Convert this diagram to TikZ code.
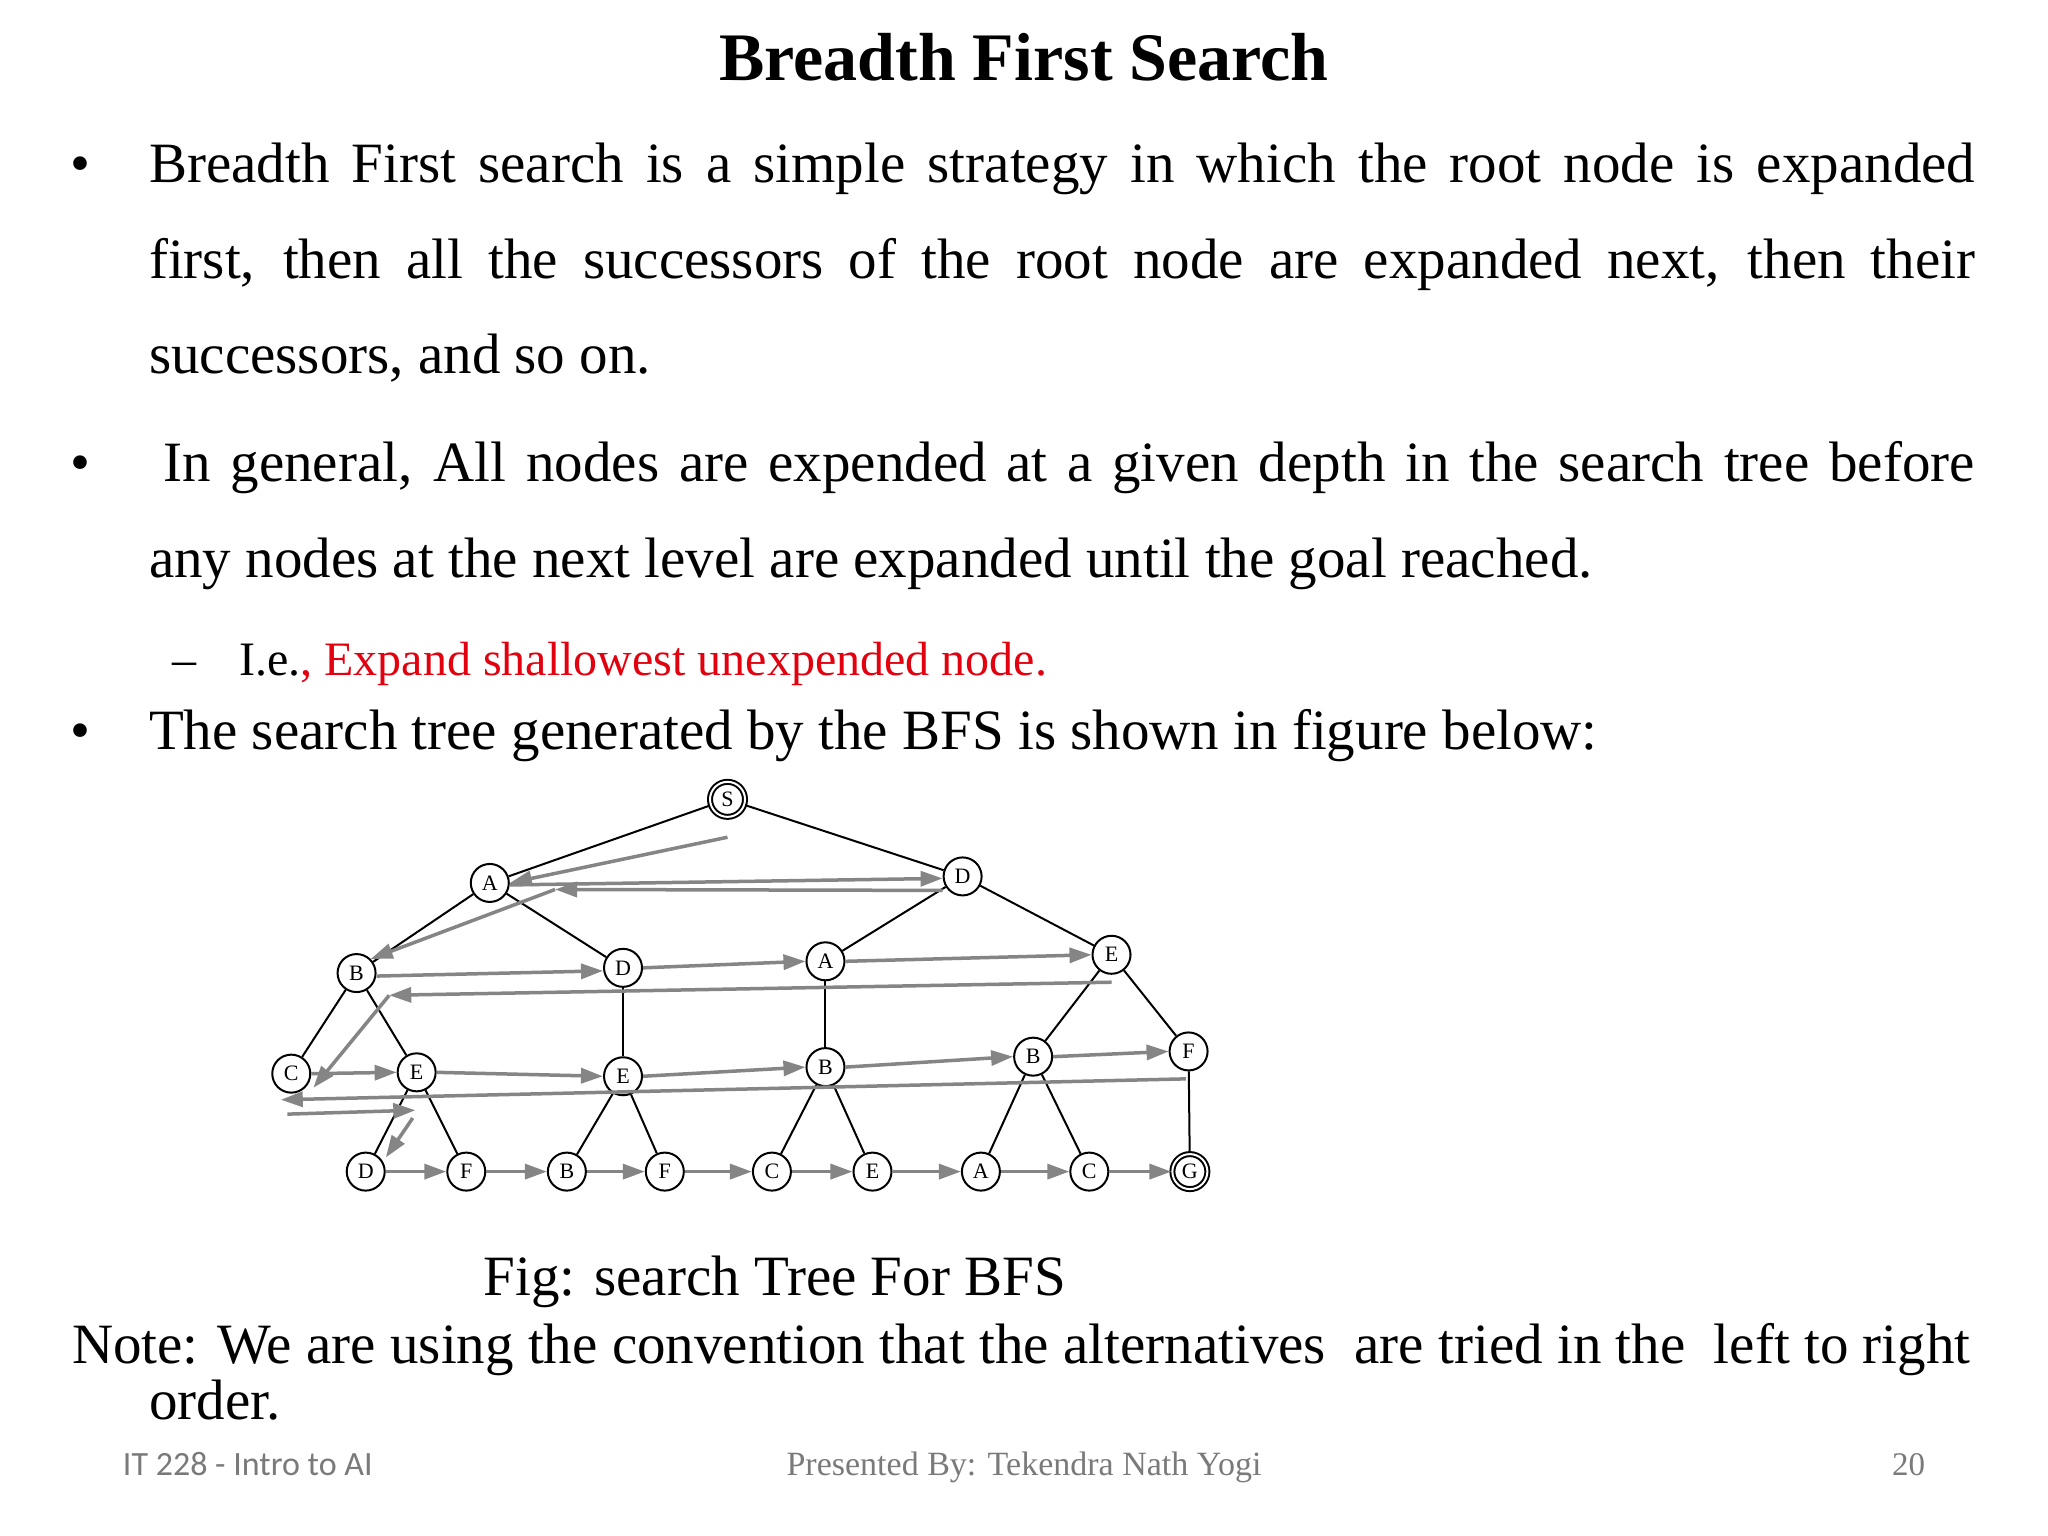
\documentclass[tikz,border=0pt]{standalone}
\usepackage{fontspec}
\setmainfont{Liberation Serif}
\newfontfamily\footsans{Carlito}
\usetikzlibrary{arrows.meta}
\definecolor{arr}{HTML}{858585}
\definecolor{redtxt}{HTML}{E3000F}
\definecolor{foot}{HTML}{7A7A7A}
\tikzset{
 tn/.style={draw,circle,line width=2pt,inner sep=0pt,minimum size=38pt,font=\fontsize{22}{22}\selectfont,fill=white},
 gn/.style={tn,double,double distance=2pt,minimum size=35pt},
 ed/.style={line width=2pt},
 ga/.style={draw=arr,line width=3.5pt,-{Triangle[length=22pt,width=15pt]}},
 body/.style={anchor=base west,inner sep=0pt,font=\fontsize{57}{57}\selectfont},
}
\begin{document}
\begin{tikzpicture}[x=1.306pt,y=-1.306pt]
\useasboundingbox[fill=white] (0,0) rectangle (1568,1176);
\node[anchor=base,inner sep=0pt,font=\fontsize{68}{68}\selectfont\bfseries] (title) at (784,62) {Breadth First Search};
% bullets
\node[body] (b1) at (54,140) {•};
\node[body] (l1) at (114,140) {\makebox[1826pt][s]{Breadth First search is a simple strategy in which the root node is expanded}};
\node[body] (l2) at (114,213) {\makebox[1826pt][s]{first, then all the successors of the root node are expanded next, then their}};
\node[body] (l3) at (114,286) {successors, and so on.};
\node[body] (b2) at (54,369) {•};
\node[body] (l4) at (125,369) {\makebox[1811pt][s]{In general, All nodes are expended at a given depth in the search tree before}};
\node[body] (l5) at (114,442) {any nodes at the next level are expanded until the goal reached.};
\node[body,font=\fontsize{48}{48}\selectfont] (d1) at (132,517) {–};
\node[body,font=\fontsize{48}{48}\selectfont] (l6) at (183,517) {I.e.\textcolor{redtxt}{, Expand shallowest unexpended node.}};
\node[body] (b3) at (54,574) {•};
\node[body] (l7) at (114,574) {The search tree generated by the BFS is shown in figure below:};
\node[body] (cap) at (370,992) {Fig: search Tree For BFS};
\node[body] (n1) at (55,1044) {Note: We are using the convention that the alternatives\ \ are tried in the\ \ left to right};
\node[body] (n2) at (114,1087) {order.};
\node[anchor=base west,inner sep=0pt,font=\footsans\fontsize{34}{34}\selectfont,text=foot] (f1) at (94,1130) {IT 228 - Intro to AI};
\node[anchor=base,inner sep=0pt,font=\fontsize{34}{34}\selectfont,text=foot] (f2) at (784,1130) {Presented By: Tekendra Nath Yogi};
\node[anchor=base east,inner sep=0pt,font=\fontsize{33}{33}\selectfont,text=foot] (f3) at (1474,1130) {20};
% tree
\node[gn] (S) at (557,612) {S};
\node[tn] (A) at (375,676) {A};
\node[tn] (D) at (737,671) {D};
\node[tn] (B) at (273,745) {B};
\node[tn] (D2) at (477,741) {D};
\node[tn] (A2) at (632,736) {A};
\node[tn] (E) at (851,731) {E};
\node[tn] (C) at (223,822) {C};
\node[tn] (E2) at (319,821) {E};
\node[tn] (E3) at (477,824) {E};
\node[tn] (B2) at (632,817) {B};
\node[tn] (B3) at (791,809) {B};
\node[tn] (F) at (910,805) {F};
\node[tn] (q1) at (280,897) {D};
\node[tn] (q2) at (357,897) {F};
\node[tn] (q3) at (434,897) {B};
\node[tn] (q4) at (509,897) {F};
\node[tn] (q5) at (591,897) {C};
\node[tn] (q6) at (668,897) {E};
\node[tn] (q7) at (751,897) {A};
\node[tn] (q8) at (834,897) {C};
\node[gn] (q9) at (911,897) {G};
\foreach \a/\b in {S/A,S/D,A/B,A/D2,D/A2,D/E,B/C,B/E2,D2/E3,A2/B2,E/B3,E/F,E2/q1,E2/q2,E3/q3,E3/q4,B2/q5,B2/q6,B3/q7,B3/q8,F/q9}
  \draw[ed] (\a) -- (\b);
% arrows
\coordinate (s1) at (557,641);
\draw[ga] (s1) -- (A.east);
\draw[ga] ([yshift=-2pt]A.east) -- ([yshift=-2pt]D.west);
\coordinate (r1) at (425,681);
\draw[ga] ([yshift=-14pt]D.west) -- (r1);
\draw[ga] (r1) -- (B.north east);
\draw[ga] ([yshift=-3pt]B.east) -- ([yshift=-3pt]D2.west);
\draw[ga] (D2.east) -- (A2.west);
\draw[ga] (A2.east) -- (E.west);
\coordinate (r2) at (851,752);
\coordinate (r3) at (298,762);
\draw[ga] (r2) -- (r3);
\draw[ga] (r3) -- ([xshift=8pt]C.south east);
\draw[ga] (C.east) -- (E2.west);
\draw[ga] (E2.east) -- (E3.west);
\draw[ga] (E3.east) -- (B2.west);
\draw[ga] (B2.east) -- (B3.west);
\draw[ga] (B3.east) -- (F.west);
\coordinate (r4) at (908,826);
\coordinate (r5) at (215,842);
\coordinate (r6) at (220,853);
\coordinate (r7) at (318,850);
\coordinate (r8) at (316,856);
\draw[ga] (r4) -- (r5);
\draw[ga] (r6) -- (r7);
\draw[ga] (r8) -- ([xshift=6pt]q1.north east);
\draw[ga] (q1) -- (q2); \draw[ga] (q2) -- (q3); \draw[ga] (q3) -- (q4);
\draw[ga] (q4) -- (q5); \draw[ga] (q5) -- (q6); \draw[ga] (q6) -- (q7);
\draw[ga] (q7) -- (q8); \draw[ga] (q8) -- (q9);
\end{tikzpicture}
\end{document}
